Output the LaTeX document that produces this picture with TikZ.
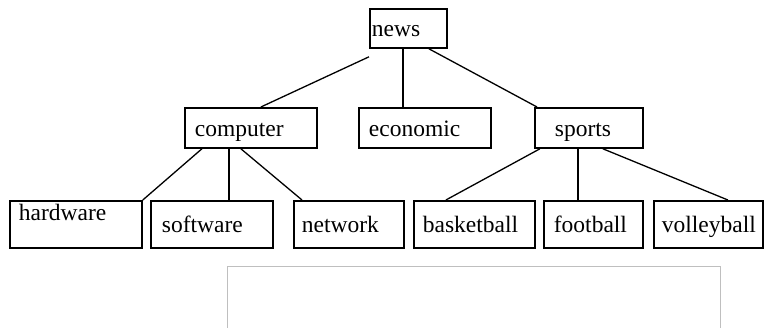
\documentclass[tikz,border=0pt]{standalone}
\usepackage{fontspec}
\setmainfont{Liberation Serif}
\usepackage{tikz}

\begin{document}
\begin{tikzpicture}[x=1pt,y=1pt,yscale=-1,xscale=1,
  box/.style={draw, line width=1.8pt, anchor=north west, inner ysep=0pt, align=left,
    text height=18pt, text depth=1pt, font=\fontsize{23.5}{26}\selectfont},
  link/.style={line width=1.3pt}]
\useasboundingbox (0,0) rectangle (764,328);

% Text Node
\node [box, text width=73pt, inner xsep=2pt, minimum height=39pt] (news) at (369,8) {news};
% Text Node
\node [box, text width=112pt, inner xsep=10pt, minimum height=40pt] (computer) at (184,107) {computer};
% Text Node
\node [box, text width=112pt, inner xsep=10pt, minimum height=40pt] (economic) at (358,107) {economic};
% Text Node
\node [box, text width=68pt, inner xsep=20pt, minimum height=40pt] (sports) at (534,107) {sports};
% Text Node
\node [box, text width=114pt, inner xsep=9pt, minimum height=47pt, text height=20pt, text depth=27pt] (hardware) at (9,200) {hardware};
% Text Node
\node [box, text width=100pt, inner xsep=11pt, minimum height=47pt] (software) at (150,200) {software};
% Text Node
\node [box, text width=94pt, inner xsep=8pt, minimum height=47pt] (network) at (293,200) {network};
% Text Node
\node [box, text width=103pt, inner xsep=9pt, minimum height=47pt] (basketball) at (413,200) {basketball};
% Text Node
\node [box, text width=79pt, inner xsep=10pt, minimum height=47pt] (football) at (543,200) {football};
% Text Node
\node [box, text width=93pt, inner xsep=8pt, minimum height=47pt] (volleyball) at (653,200) {volleyball};

%Straight Lines
\draw [link] ([yshift=8pt]news.south west) -- ([xshift=10pt]computer.north);
\draw [link] ([xshift=-5.5pt]news.south) -- ([xshift=-22pt]economic.north);
\draw [link] ([xshift=20.5pt]news.south) -- ([xshift=3pt]sports.north west);
%Straight Lines
\draw [link] ([xshift=-49pt]computer.south) -- (hardware.north east);
\draw [link] ([xshift=-22pt]computer.south) -- ([xshift=17pt]software.north);
\draw [link] ([xshift=-10pt]computer.south) -- ([xshift=9pt]network.north west);
%Straight Lines
\draw [link] ([xshift=-49pt]sports.south) -- ([xshift=-28.5pt]basketball.north);
\draw [link] ([xshift=-11pt]sports.south) -- ([xshift=-15.5pt]football.north);
\draw [link] ([xshift=14pt]sports.south) -- ([xshift=19.5pt]volleyball.north);

%Shape: Rectangle
\draw [color=black!25, line width=0.8pt] (227,328) -- (227,266) -- (720,266) -- (720,328);

\end{tikzpicture}
\end{document}
